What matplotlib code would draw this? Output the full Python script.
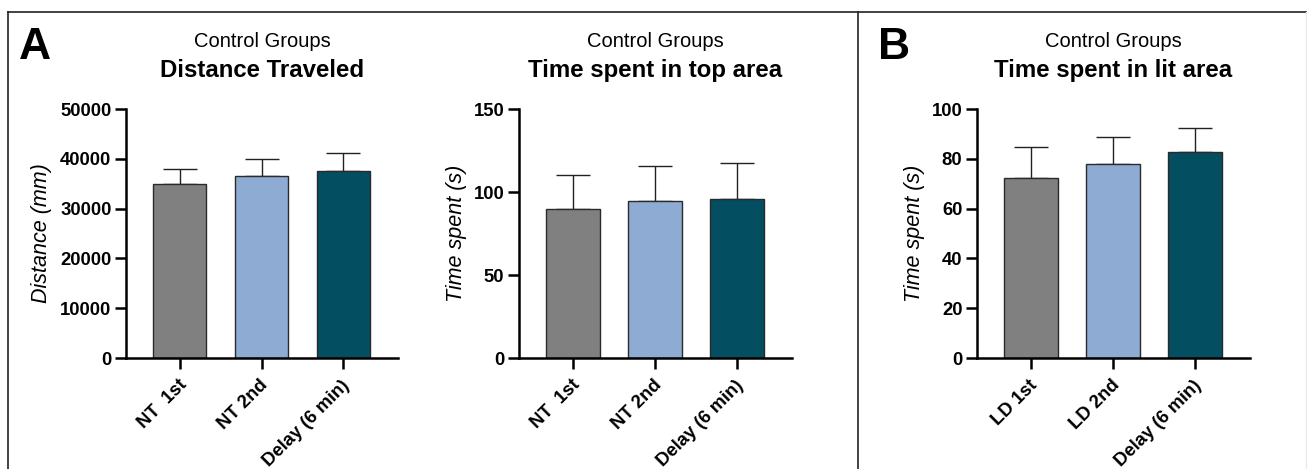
import matplotlib.pyplot as plt
from matplotlib.lines import Line2D
from matplotlib.transforms import ScaledTranslation

plt.rcParams['font.family'] = ['Liberation Sans', 'DejaVu Sans']

# data
nt_labels = ['NT  1st', 'NT 2nd', 'Delay (6 min)']
ld_labels = ['LD 1st', 'LD 2nd', 'Delay (6 min)']

distance_mean = [35000, 36500, 37500]
distance_sd = [3000, 3500, 3700]

top_time_mean = [90, 94.5, 96]
top_time_sd = [20.5, 21, 21.5]

lit_time_mean = [72.3, 78, 82.7]
lit_time_sd = [12.6, 10.8, 9.5]

colors = ['#808080', '#8EABD3', '#034E61']

W, H = 1307, 469
fig = plt.figure(figsize=(W / 100, H / 100), dpi=100)


def px_axes(left, right, top, bottom):
    return fig.add_axes([left / W, 1 - bottom / H, (right - left) / W, (bottom - top) / H])


def bar_panel(ax, labels, means, sds, ymax, yticks, ylabel, title, label_x):
    x = range(len(means))
    ax.bar(x, means, width=0.65, color=colors, edgecolor='#2a2a2a', linewidth=1.0, zorder=2)
    ax.errorbar(x, means, yerr=[[0] * len(sds), sds], fmt='none', ecolor='#222222',
                elinewidth=1.0, capsize=12.5, capthick=1.0, zorder=1)
    ax.set_xlim(-0.66, 2.67)
    ax.set_ylim(0, ymax)
    ax.set_yticks(yticks)
    ax.set_xticks(list(x))
    ax.set_xticklabels(labels, rotation=45, ha='right', va='center', rotation_mode='anchor')
    for s in ['top', 'right']:
        ax.spines[s].set_visible(False)
    for s in ['left', 'bottom']:
        ax.spines[s].set_linewidth(1.8)
    ax.tick_params(axis='both', length=8, width=1.8, labelsize=13.3, pad=2.5)
    ax.tick_params(axis='x', pad=8)
    shift = ScaledTranslation(4 / 100, -2.5 / 100, fig.dpi_scale_trans)
    for t in ax.get_xticklabels():
        t.set_fontweight('bold')
        t.set_transform(t.get_transform() + shift)
    for t in ax.get_yticklabels():
        t.set_fontweight('bold')
    ax.set_ylabel(ylabel, fontsize=15.5, fontstyle='italic')
    ax.yaxis.set_label_coords(label_x, 0.5)
    ax.set_facecolor('none')
    pos = ax.get_position()
    cx = pos.x0 + pos.width / 2
    fig.text(cx, 1 - 47 / H, 'Control Groups', ha='center', va='baseline', fontsize=14.5)
    fig.text(cx, 1 - 77 / H, title, ha='center', va='baseline', fontsize=17.3, fontweight='bold')


ax1 = px_axes(126, 398, 109, 358)
bar_panel(ax1, nt_labels, distance_mean, distance_sd, 50000,
          [0, 10000, 20000, 30000, 40000, 50000], 'Distance (mm)', 'Distance Traveled', -0.272)

ax2 = px_axes(519, 792, 109, 358)
bar_panel(ax2, nt_labels, top_time_mean, top_time_sd, 150,
          [0, 50, 100, 150], 'Time spent (s)', 'Time spent in top area', -0.19)

ax3 = px_axes(977, 1250, 109, 358)
bar_panel(ax3, ld_labels, lit_time_mean, lit_time_sd, 100,
          [0, 20, 40, 60, 80, 100], 'Time spent (s)', 'Time spent in lit area', -0.19)

# panel frame
frame = dict(color='#222222', linewidth=1.2, transform=fig.transFigure)
fig.add_artist(Line2D([8 / W, 1], [1 - 12 / H, 1 - 12 / H], **frame))
fig.add_artist(Line2D([8 / W, 8 / W], [0, 1 - 12 / H], **frame))
fig.add_artist(Line2D([857.5 / W, 857.5 / W], [0, 1 - 12 / H], **frame))
fig.add_artist(Line2D([1306 / W, 1306 / W], [0, 1 - 12 / H], color='#e8e8e8',
                      linewidth=1, transform=fig.transFigure))

fig.text(19 / W, 1 - 59 / H, 'A', fontsize=32, fontweight='bold', va='baseline', ha='left')
fig.text(878 / W, 1 - 59 / H, 'B', fontsize=32, fontweight='bold', va='baseline', ha='left')

fig.savefig('out.png', dpi=100)
